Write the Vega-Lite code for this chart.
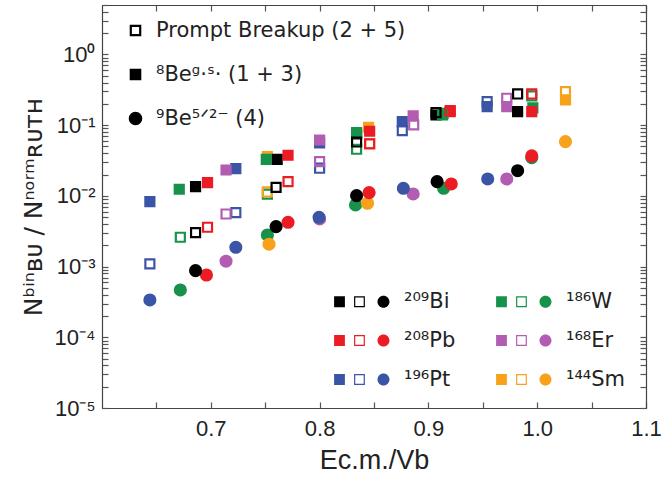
{
  "$schema": "https://vega.github.io/schema/vega-lite/v6.json",
  "width": 544,
  "height": 403,
  "autosize": "none",
  "padding": {"left": 102, "top": 5, "right": 17, "bottom": 79},
  "background": "white",
  "config": {
    "font": "Liberation Sans",
    "view": {"stroke": "#444", "strokeWidth": 1},
    "axis": {"grid": false, "domainColor": "#444", "tickColor": "#555", "labelColor": "#222", "titleColor": "#222", "titleFontWeight": "normal", "tickSize": -6, "domainWidth": 1.2, "tickWidth": 1.2}
  },
  "data": {"values": [
    {"x": 0.644, "y": 0.00828, "target": "Pt", "type": "GS"},
    {"x": 0.723, "y": 0.0243, "target": "Pt", "type": "GS"},
    {"x": 0.800, "y": 0.0560, "target": "Pt", "type": "GS"},
    {"x": 0.876, "y": 0.112, "target": "Pt", "type": "GS"},
    {"x": 0.954, "y": 0.183, "target": "Pt", "type": "GS"},
    {"x": 0.714, "y": 0.0232, "target": "Er", "type": "GS"},
    {"x": 0.800, "y": 0.0617, "target": "Er", "type": "GS"},
    {"x": 0.886, "y": 0.135, "target": "Er", "type": "GS"},
    {"x": 0.972, "y": 0.183, "target": "Er", "type": "GS"},
    {"x": 0.752, "y": 0.0358, "target": "Sm", "type": "GS"},
    {"x": 0.845, "y": 0.0934, "target": "Sm", "type": "GS"},
    {"x": 1.026, "y": 0.227, "target": "Sm", "type": "GS"},
    {"x": 0.686, "y": 0.0135, "target": "Bi", "type": "GS"},
    {"x": 0.761, "y": 0.0329, "target": "Bi", "type": "GS"},
    {"x": 0.834, "y": 0.075, "target": "Bi", "type": "GS"},
    {"x": 0.907, "y": 0.139, "target": "Bi", "type": "GS"},
    {"x": 0.982, "y": 0.155, "target": "Bi", "type": "GS"},
    {"x": 0.671, "y": 0.0124, "target": "W", "type": "GS"},
    {"x": 0.751, "y": 0.0329, "target": "W", "type": "GS"},
    {"x": 0.834, "y": 0.0783, "target": "W", "type": "GS"},
    {"x": 0.9135, "y": 0.147, "target": "W", "type": "GS"},
    {"x": 0.996, "y": 0.175, "target": "W", "type": "GS"},
    {"x": 0.697, "y": 0.0154, "target": "Pb", "type": "GS"},
    {"x": 0.771, "y": 0.0375, "target": "Pb", "type": "GS"},
    {"x": 0.846, "y": 0.082, "target": "Pb", "type": "GS"},
    {"x": 0.920, "y": 0.155, "target": "Pb", "type": "GS"},
    {"x": 0.995, "y": 0.155, "target": "Pb", "type": "GS"},
    {"x": 0.644, "y": 0.00109, "target": "Pt", "type": "PB"},
    {"x": 0.723, "y": 0.00579, "target": "Pt", "type": "PB"},
    {"x": 0.800, "y": 0.0246, "target": "Pt", "type": "PB"},
    {"x": 0.876, "y": 0.0836, "target": "Pt", "type": "PB"},
    {"x": 0.954, "y": 0.215, "target": "Pt", "type": "PB"},
    {"x": 0.714, "y": 0.00554, "target": "Er", "type": "PB"},
    {"x": 0.800, "y": 0.0305, "target": "Er", "type": "PB"},
    {"x": 0.8865, "y": 0.101, "target": "Er", "type": "PB"},
    {"x": 0.972, "y": 0.240, "target": "Er", "type": "PB"},
    {"x": 0.672, "y": 0.0026, "target": "W", "type": "PB"},
    {"x": 0.752, "y": 0.0106, "target": "W", "type": "PB"},
    {"x": 0.834, "y": 0.0456, "target": "W", "type": "PB"},
    {"x": 0.913, "y": 0.140, "target": "W", "type": "PB"},
    {"x": 0.995, "y": 0.259, "target": "W", "type": "PB"},
    {"x": 0.752, "y": 0.01135, "target": "Sm", "type": "PB"},
    {"x": 0.846, "y": 0.055, "target": "Sm", "type": "PB"},
    {"x": 1.026, "y": 0.298, "target": "Sm", "type": "PB"},
    {"x": 0.686, "y": 0.00302, "target": "Bi", "type": "PB"},
    {"x": 0.760, "y": 0.0132, "target": "Bi", "type": "PB"},
    {"x": 0.834, "y": 0.0578, "target": "Bi", "type": "PB"},
    {"x": 0.907, "y": 0.150, "target": "Bi", "type": "PB"},
    {"x": 0.982, "y": 0.276, "target": "Bi", "type": "PB"},
    {"x": 0.697, "y": 0.0036, "target": "Pb", "type": "PB"},
    {"x": 0.771, "y": 0.0159, "target": "Pb", "type": "PB"},
    {"x": 0.846, "y": 0.0542, "target": "Pb", "type": "PB"},
    {"x": 0.920, "y": 0.160, "target": "Pb", "type": "PB"},
    {"x": 0.995, "y": 0.276, "target": "Pb", "type": "PB"},
    {"x": 0.672, "y": 0.000467, "target": "W", "type": "E9"},
    {"x": 0.752, "y": 0.0028, "target": "W", "type": "E9"},
    {"x": 0.833, "y": 0.00743, "target": "W", "type": "E9"},
    {"x": 0.914, "y": 0.0128, "target": "W", "type": "E9"},
    {"x": 0.995, "y": 0.0347, "target": "W", "type": "E9"},
    {"x": 0.7535, "y": 0.00207, "target": "Sm", "type": "E9"},
    {"x": 0.844, "y": 0.00786, "target": "Sm", "type": "E9"},
    {"x": 1.026, "y": 0.0584, "target": "Sm", "type": "E9"},
    {"x": 0.714, "y": 0.00119, "target": "Er", "type": "E9"},
    {"x": 0.800, "y": 0.00471, "target": "Er", "type": "E9"},
    {"x": 0.886, "y": 0.01064, "target": "Er", "type": "E9"},
    {"x": 0.972, "y": 0.01734, "target": "Er", "type": "E9"},
    {"x": 0.644, "y": 0.000337, "target": "Pt", "type": "E9"},
    {"x": 0.723, "y": 0.001875, "target": "Pt", "type": "E9"},
    {"x": 0.7995, "y": 0.00498, "target": "Pt", "type": "E9"},
    {"x": 0.877, "y": 0.0128, "target": "Pt", "type": "E9"},
    {"x": 0.9545, "y": 0.01734, "target": "Pt", "type": "E9"},
    {"x": 0.696, "y": 0.00076, "target": "Pb", "type": "E9"},
    {"x": 0.771, "y": 0.00423, "target": "Pb", "type": "E9"},
    {"x": 0.8455, "y": 0.0111, "target": "Pb", "type": "E9"},
    {"x": 0.921, "y": 0.01473, "target": "Pb", "type": "E9"},
    {"x": 0.995, "y": 0.0367, "target": "Pb", "type": "E9"},
    {"x": 0.686, "y": 0.000875, "target": "Bi", "type": "E9"},
    {"x": 0.760, "y": 0.00367, "target": "Bi", "type": "E9"},
    {"x": 0.834, "y": 0.01007, "target": "Bi", "type": "E9"},
    {"x": 0.908, "y": 0.01588, "target": "Bi", "type": "E9"},
    {"x": 0.982, "y": 0.0227, "target": "Bi", "type": "E9"}
  ]},
  "layer": [
    {
      "mark": {"type": "point", "filled": true, "strokeWidth": 1.6, "opacity": 1, "size": 92},
      "encoding": {
        "x": {"field": "x", "type": "quantitative",
          "scale": {"domain": [0.6, 1.1], "nice": false, "zero": false},
          "axis": {"orient": "bottom", "values": [0.65, 0.7, 0.75, 0.8, 0.85, 0.9, 0.95, 1.0, 1.05, 1.1], "format": ".1f",
            "labelExpr": "abs(datum.value*10 - round(datum.value*10)) < 0.01 ? datum.label : ''",
            "labelFontSize": 22, "labelPadding": 16, "labelFlush": false,
            "title": "Ec.m./Vb", "titleFontSize": 27, "titlePadding": 8}},
        "y": {"field": "y", "type": "quantitative",
          "scale": {"type": "log", "domain": [0.00001, 5], "nice": false},
          "axis": {"orient": "left",
            "values": [0.00001,0.00002,0.00003,0.00004,0.00005,0.00006,0.00007,0.00008,0.00009,0.0001,0.0002,0.0003,0.0004,0.0005,0.0006,0.0007,0.0008,0.0009,0.001,0.002,0.003,0.004,0.005,0.006,0.007,0.008,0.009,0.01,0.02,0.03,0.04,0.05,0.06,0.07,0.08,0.09,0.1,0.2,0.3,0.4,0.5,0.6,0.7,0.8,0.9,1,2,3,4,5],
            "labelExpr": "abs(log(datum.value)/LN10 - round(log(datum.value)/LN10)) < 0.001 ? ('10' + (round(log(datum.value)/LN10) == 0 ? '⁰' : round(log(datum.value)/LN10) == -1 ? '⁻¹' : round(log(datum.value)/LN10) == -2 ? '⁻²' : round(log(datum.value)/LN10) == -3 ? '⁻³' : round(log(datum.value)/LN10) == -4 ? '⁻⁴' : '⁻⁵')) : ''",
            "labelFontSize": 22, "labelPadding": 13, "labelFlush": false, "labelOverlap": false,
            "title": "Nᵇⁱⁿʙᴜ / Nⁿᵒʳᵐʀᴜᴛʜ", "titleFont": "DejaVu Sans", "titleFontSize": 25, "titlePadding": 8}},
        "shape": {"field": "type", "type": "nominal",
          "scale": {"domain": ["PB", "GS", "E9"], "range": [
            "M-1,-1V1H1V-1Z M-0.88,-0.88H0.88V0.88H-0.88Z",
            "square",
            "M-1.2,0C-1.2,-0.6627 -0.6627,-1.2 0,-1.2C0.6627,-1.2 1.2,-0.6627 1.2,0C1.2,0.6627 0.6627,1.2 0,1.2C-0.6627,1.2 -1.2,0.6627 -1.2,0Z"]},
          "legend": {"orient": "none", "legendX": 23, "legendY": 15, "title": null, "padding": 0,
            "labelExpr": "datum.value === 'PB' ? 'Prompt Breakup (2 + 5)' : datum.value === 'GS' ? '⁸Beᵍ·ˢ· (1 + 3)' : '⁹Be⁵ᐟ²⁻ (4)'",
            "labelFont": "DejaVu Sans", "labelFontSize": 21, "labelColor": "#222", "rowPadding": 22, "symbolSize": 100, "labelOffset": 10, "labelLimit": 400,
            "symbolFillColor": "black", "symbolStrokeColor": "black", "symbolStrokeWidth": 1.6, "symbolOpacity": 1}},
        "fill": {"field": "target", "type": "nominal",
          "scale": {"domain": ["Bi", "Pb", "Pt", "W", "Er", "Sm"], "range": ["#000000", "#ec1c24", "#3b55a6", "#17924a", "#b25db2", "#f8a11b"]},
          "legend": {"orient": "none", "legendX": 227, "legendY": 286, "title": null, "padding": 0, "columns": 2, "columnPadding": 35, "rowPadding": 17,
            "labelExpr": "datum.value === 'Bi' ? '²⁰⁹Bi' : datum.value === 'W' ? '¹⁸⁶W' : datum.value === 'Pb' ? '²⁰⁸Pb' : datum.value === 'Er' ? '¹⁶⁸Er' : datum.value === 'Pt' ? '¹⁹⁶Pt' : '¹⁴⁴Sm'",
            "symbolType": "M-0.9,-0.9H0.9V0.9H-0.9Z M2.43,-0.9V0.9H4.23V-0.9Z M2.63,-0.7H4.03V0.7H2.63Z M6.33,0C6.33,-0.5523 6.7777,-1 7.33,-1C7.8823,-1 8.33,-0.5523 8.33,0C8.33,0.5523 7.8823,1 7.33,1C6.7777,1 6.33,0.5523 6.33,0Z",
            "symbolSize": 144, "symbolStrokeWidth": 0, "symbolOpacity": 1, "labelOffset": 54, "labelFont": "DejaVu Sans", "labelFontSize": 21, "labelColor": "#222"}},
        "stroke": {"field": "target", "type": "nominal",
          "scale": {"domain": ["Bi", "Pb", "Pt", "W", "Er", "Sm"], "range": ["#000000", "#ec1c24", "#3b55a6", "#17924a", "#b25db2", "#f8a11b"]},
          "legend": null}
      }
    },
    {
      "mark": {"type": "point", "opacity": 0},
      "encoding": {
        "x": {"field": "x", "type": "quantitative",
          "axis": {"orient": "top", "values": [0.65, 0.7, 0.75, 0.8, 0.85, 0.9, 0.95, 1.0, 1.05, 1.1], "labels": false, "title": null}},
        "y": {"field": "y", "type": "quantitative",
          "axis": {"orient": "right", "labels": false, "title": null,
            "values": [0.00001,0.00002,0.00003,0.00004,0.00005,0.00006,0.00007,0.00008,0.00009,0.0001,0.0002,0.0003,0.0004,0.0005,0.0006,0.0007,0.0008,0.0009,0.001,0.002,0.003,0.004,0.005,0.006,0.007,0.008,0.009,0.01,0.02,0.03,0.04,0.05,0.06,0.07,0.08,0.09,0.1,0.2,0.3,0.4,0.5,0.6,0.7,0.8,0.9,1,2,3,4,5]}}
      }
    }
  ],
  "resolve": {"axis": {"x": "independent", "y": "independent"}}
}
